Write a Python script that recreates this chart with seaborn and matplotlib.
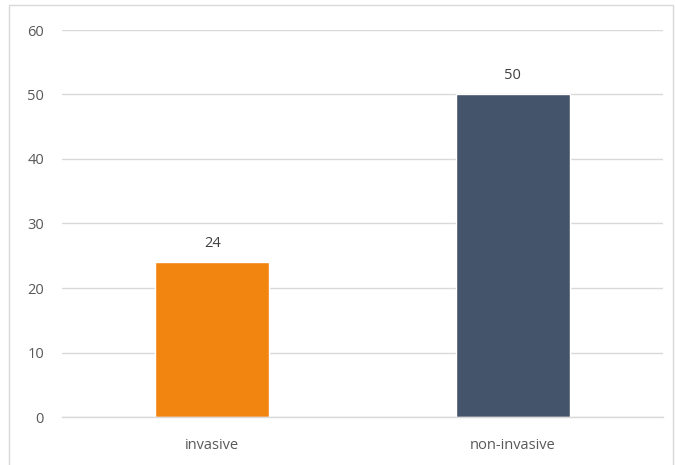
import matplotlib
matplotlib.use("Agg")
import matplotlib.pyplot as plt
import seaborn as sns
import pandas as pd
from matplotlib.patches import Rectangle

categories = ["invasive", "non-invasive"]
values = [24, 50]
colors = ["#F28410", "#44546A"]
yticks = [0, 10, 20, 30, 40, 50, 60]

df = pd.DataFrame({"type": categories, "count": values})

sns.set_theme(style="white")
plt.rcParams["font.family"] = ["Open Sans", "DejaVu Sans"]
text_color = "#595959"

fig = plt.figure(figsize=(6.75, 4.65), dpi=100)
ax = fig.add_axes([62 / 675, 48 / 465, 601 / 675, 387 / 465])

sns.barplot(data=df, x="type", y="count", hue="type", palette=colors,
            width=0.38, ax=ax, legend=False, saturation=1)

ax.set_ylim(0, 60)
ax.set_yticks(yticks)
ax.set_xlim(-0.5, 1.5)
ax.yaxis.grid(True, color="#D9D9D9", linewidth=1)
ax.set_axisbelow(True)
for side in ["top", "right", "left"]:
    ax.spines[side].set_visible(False)
ax.spines["bottom"].set_color("#D9D9D9")
ax.spines["bottom"].set_linewidth(1)
ax.set_xlabel("")
ax.set_ylabel("")
ax.tick_params(axis="both", length=0, labelsize=10.5, labelcolor=text_color)
ax.tick_params(axis="y", pad=13)
ax.tick_params(axis="x", pad=15)

for cont in ax.containers:
    ax.bar_label(cont, padding=8, fontsize=10.5, color="#404040")

# outer chart border
fig.patches.append(Rectangle((9 / 675, -0.01), 664 / 675, 1 - 5 / 465 + 0.01,
                             transform=fig.transFigure, fill=False,
                             edgecolor="#D9D9D9", linewidth=1))

fig.savefig("out.png", dpi=100)
